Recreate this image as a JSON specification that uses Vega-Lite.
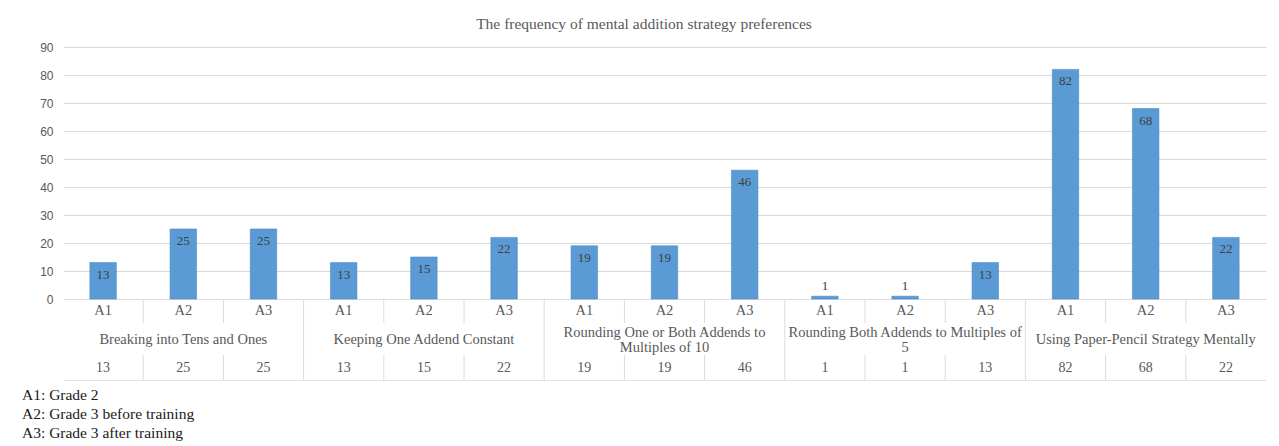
{
  "$schema": "https://vega.github.io/schema/vega-lite/v6.json",
  "background": "white",
  "padding": {"left": 22, "top": 16, "right": 12, "bottom": 0},
  "bounds": "flush",
  "spacing": 0,
  "title": {
    "text": "The frequency of mental addition strategy preferences",
    "font": "Liberation Serif",
    "fontSize": 15.5,
    "fontWeight": "normal",
    "color": "#595959",
    "anchor": "middle",
    "frame": "bounds",
    "offset": 9
  },
  "config": {
    "view": {"stroke": null},
    "font": "Liberation Serif"
  },
  "datasets": {
    "bars": [
      {"key": "01", "grade": "A1", "group": "Breaking into Tens and Ones", "v": 13},
      {"key": "02", "grade": "A2", "group": "Breaking into Tens and Ones", "v": 25},
      {"key": "03", "grade": "A3", "group": "Breaking into Tens and Ones", "v": 25},
      {"key": "04", "grade": "A1", "group": "Keeping One Addend Constant", "v": 13},
      {"key": "05", "grade": "A2", "group": "Keeping One Addend Constant", "v": 15},
      {"key": "06", "grade": "A3", "group": "Keeping One Addend Constant", "v": 22},
      {"key": "07", "grade": "A1", "group": "Rounding One or Both Addends to\nMultiples of 10", "v": 19},
      {"key": "08", "grade": "A2", "group": "Rounding One or Both Addends to\nMultiples of 10", "v": 19},
      {"key": "09", "grade": "A3", "group": "Rounding One or Both Addends to\nMultiples of 10", "v": 46},
      {"key": "10", "grade": "A1", "group": "Rounding Both Addends to Multiples of\n5", "v": 1},
      {"key": "11", "grade": "A2", "group": "Rounding Both Addends to Multiples of\n5", "v": 1},
      {"key": "12", "grade": "A3", "group": "Rounding Both Addends to Multiples of\n5", "v": 13},
      {"key": "13", "grade": "A1", "group": "Using Paper-Pencil Strategy Mentally", "v": 82},
      {"key": "14", "grade": "A2", "group": "Using Paper-Pencil Strategy Mentally", "v": 68},
      {"key": "15", "grade": "A3", "group": "Using Paper-Pencil Strategy Mentally", "v": 22}
    ]
  },
  "vconcat": [
    {
      "width": 1203,
      "height": 252,
      "data": {"name": "bars"},
      "encoding": {
        "x": {"field": "key", "type": "nominal", "scale": {"domain": ["01","02","03","04","05","06","07","08","09","10","11","12","13","14","15"], "paddingInner": 0, "paddingOuter": 0}, "axis": null},
        "y": {
          "field": "v", "type": "quantitative",
          "scale": {"domain": [0, 90], "nice": false},
          "axis": {
            "values": [0, 10, 20, 30, 40, 50, 60, 70, 80, 90],
            "labelOverlap": false,
            "title": null, "domain": false, "ticks": false,
            "labelFont": "Liberation Sans", "labelFontSize": 12, "labelColor": "#595959",
            "labelPadding": 10, "gridColor": "#d9d9d9", "gridWidth": 1
          }
        }
      },
      "layer": [
        {
          "mark": {"type": "bar", "width": {"band": 0.33}, "color": "#5b9bd5", "stroke": "#4a8ac8", "strokeWidth": 0.6}
        },
        {
          "transform": [{"filter": "datum.v >= 5"}],
          "mark": {"type": "text", "baseline": "top", "dy": 6, "fontSize": 13, "color": "#404040", "font": "Liberation Serif"},
          "encoding": {"text": {"field": "v", "type": "quantitative"}}
        },
        {
          "transform": [{"filter": "datum.v < 5"}],
          "mark": {"type": "text", "baseline": "bottom", "dy": -3, "fontSize": 13, "color": "#404040", "font": "Liberation Serif"},
          "encoding": {"text": {"field": "v", "type": "quantitative"}}
        }
      ]
    },
    {
      "width": 1203,
      "height": 24,
      "data": {"name": "bars"},
      "encoding": {
        "x": {"field": "key", "type": "nominal", "scale": {"domain": ["01","02","03","04","05","06","07","08","09","10","11","12","13","14","15"], "paddingInner": 0, "paddingOuter": 0}, "axis": null}
      },
      "layer": [
        {
          "mark": {"type": "text", "fontSize": 14.5, "color": "#595959", "font": "Liberation Serif"},
          "encoding": {"text": {"field": "grade", "type": "nominal"}}
        },
        {
          "transform": [{"filter": "datum.key != '01'"}],
          "mark": {"type": "rule", "color": "#dcdcdc", "strokeWidth": 1},
          "encoding": {"x": {"field": "key", "type": "nominal", "bandPosition": 0}}
        }
      ]
    },
    {
      "width": 1203,
      "height": 32,
      "data": {"name": "bars"},
      "encoding": {
        "x": {"field": "key", "type": "nominal", "scale": {"domain": ["01","02","03","04","05","06","07","08","09","10","11","12","13","14","15"], "paddingInner": 0, "paddingOuter": 0}, "axis": null}
      },
      "layer": [
        {
          "transform": [{"filter": "datum.grade == 'A2' && indexof(datum.group, '\\n') < 0"}],
          "mark": {"type": "text", "fontSize": 14.5, "color": "#595959", "font": "Liberation Serif", "dy": 1},
          "encoding": {"text": {"field": "group", "type": "nominal"}}
        },
        {
          "transform": [{"filter": "datum.grade == 'A2' && indexof(datum.group, '\\n') >= 0"}],
          "mark": {"type": "text", "fontSize": 14.5, "color": "#595959", "font": "Liberation Serif", "lineBreak": "\n", "lineHeight": 15, "dy": -6},
          "encoding": {"text": {"field": "group", "type": "nominal"}}
        },
        {
          "transform": [{"filter": "datum.grade == 'A1' && datum.key != '01'"}],
          "mark": {"type": "rule", "color": "#dcdcdc", "strokeWidth": 1},
          "encoding": {"x": {"field": "key", "type": "nominal", "bandPosition": 0}}
        }
      ]
    },
    {
      "width": 1203,
      "height": 25,
      "data": {"name": "bars"},
      "title": {
        "text": ["A1: Grade 2", "A2: Grade 3 before training", "A3: Grade 3 after training"],
        "orient": "bottom",
        "anchor": "start",
        "frame": "group",
        "dx": -41,
        "offset": 7,
        "font": "Liberation Serif",
        "fontSize": 15.5,
        "fontWeight": "normal",
        "color": "#1a1a1a",
        "lineHeight": 19
      },
      "encoding": {
        "x": {
          "field": "key", "type": "nominal", "scale": {"domain": ["01","02","03","04","05","06","07","08","09","10","11","12","13","14","15"], "paddingInner": 0, "paddingOuter": 0},
          "axis": {"labels": false, "ticks": false, "title": null, "domain": true, "domainColor": "#e3e3e3", "grid": false}
        }
      },
      "layer": [
        {
          "mark": {"type": "text", "fontSize": 14, "color": "#595959", "font": "Liberation Serif"},
          "encoding": {"text": {"field": "v", "type": "quantitative"}}
        },
        {
          "transform": [{"filter": "datum.key != '01'"}],
          "mark": {"type": "rule", "color": "#dcdcdc", "strokeWidth": 1},
          "encoding": {"x": {"field": "key", "type": "nominal", "bandPosition": 0}}
        }
      ]
    }
  ]
}
